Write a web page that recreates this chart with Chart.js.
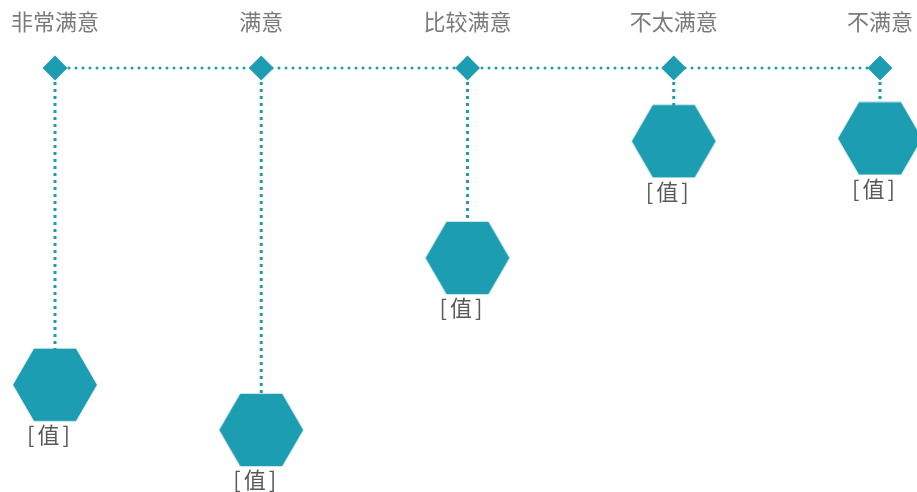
<!DOCTYPE html>
<html>
<head>
<meta charset="utf-8">
<script src="https://cdn.jsdelivr.net/npm/chart.js@4/dist/chart.umd.min.js"></script>
<style>
html,body{margin:0;padding:0;background:#fff;}
#wrap{width:917px;height:492px;}
</style>
</head>
<body>
<div id="wrap"><canvas id="c" width="917" height="492"></canvas></div>
<script>
const categories = ['非常满意', '满意', '比较满意', '不太满意', '不满意'];
const topValues = [0, 0, 0, 0, 0];
const values = [79.2, 90.5, 47.5, 18.3, 17.6];
const valueLabels = ['[值]', '[值]', '[值]', '[值]', '[值]'];

const COLOR = '#1d9db1';
const FONT = '"Noto Sans CJK SC", "Noto Sans", sans-serif';

// hexagon point style
const hex = document.createElement('canvas');
hex.width = 86; hex.height = 74;
(function(){
  const g = hex.getContext('2d');
  const r = 42, cx = 43, cy = 37;
  g.fillStyle = COLOR;
  g.beginPath();
  for (let i = 0; i < 6; i++) {
    const a = Math.PI / 3 * i;
    const x = cx + r * Math.cos(a), y = cy + r * Math.sin(a);
    if (i === 0) g.moveTo(x, y); else g.lineTo(x, y);
  }
  g.closePath();
  g.fill();
})();

const overlay = {
  id: 'overlay',
  beforeDatasetsDraw(chart) {
    const ctx = chart.ctx, xs = chart.scales.x, ys = chart.scales.y;
    ctx.save();
    ctx.strokeStyle = COLOR;
    ctx.lineWidth = 3;
    ctx.setLineDash([3, 4]);
    categories.forEach((c, i) => {
      const x = xs.getPixelForValue(i);
      ctx.beginPath();
      ctx.moveTo(x, ys.getPixelForValue(topValues[i]));
      ctx.lineTo(x, ys.getPixelForValue(values[i]));
      ctx.stroke();
    });
    ctx.restore();
  },
  afterDatasetsDraw(chart) {
    const ctx = chart.ctx, xs = chart.scales.x, ys = chart.scales.y;
    ctx.save();
    ctx.textAlign = 'center';
    ctx.textBaseline = 'middle';
    ctx.font = '22px ' + FONT;
    ctx.fillStyle = '#7a7a7a';
    categories.forEach((c, i) => {
      ctx.fillText(c, xs.getPixelForValue(i), ys.getPixelForValue(topValues[i]) - 46);
    });
    ctx.font = '22px ' + FONT;
    ctx.fillStyle = '#595959';
    if ('letterSpacing' in ctx) ctx.letterSpacing = '3px';
    valueLabels.forEach((t, i) => {
      ctx.fillText(t, xs.getPixelForValue(i) - 5, ys.getPixelForValue(values[i]) + 50);
    });
    ctx.restore();
  }
};

new Chart(document.getElementById('c'), {
  type: 'line',
  data: {
    labels: categories,
    datasets: [
      {
        data: values,
        showLine: false,
        pointStyle: hex,
        pointRadius: 40,
        clip: false
      },
      {
        data: topValues,
        borderColor: COLOR,
        borderWidth: 3,
        borderDash: [0, 7],
        borderCapStyle: 'round',
        pointStyle: 'rectRot',
        pointRadius: 12.5,
        pointBackgroundColor: COLOR,
        pointBorderColor: COLOR,
        pointBorderWidth: 0,
        clip: false
      }
    ]
  },
  options: {
    responsive: false,
    animation: false,
    events: [],
    layout: { autoPadding: false, padding: { left: 55, right: 37, top: 68, bottom: 24 } },
    plugins: { legend: { display: false }, tooltip: { enabled: false } },
    scales: {
      x: { type: 'category', offset: false, display: false },
      y: { type: 'linear', min: 0, max: 100, reverse: true, display: false }
    }
  },
  plugins: [overlay]
});
</script>
</body>
</html>
